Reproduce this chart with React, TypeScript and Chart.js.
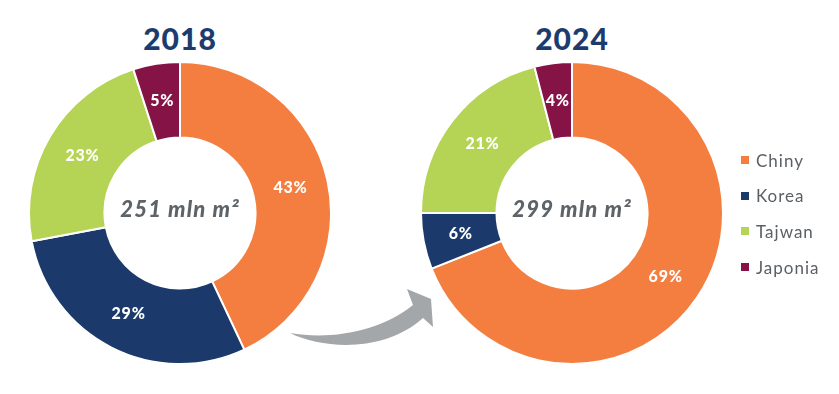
import React, { useEffect, useRef } from "react";
import { Chart, registerables } from "chart.js";

Chart.register(...registerables);

const categories = ["Chiny", "Korea", "Tajwan", "Japonia"];
const colors = ["#f37e40", "#1b3a6b", "#b5d455", "#861345"];
const years = ["2018", "2024"];
const values2018 = [43, 29, 23, 5];
const values2024 = [69, 6, 21, 4];
const totals = ["251 mln m²", "299 mln m²"];

const FONT = "Lato, 'Open Sans', sans-serif";

const labelPlugin = {
  id: "pctLabels",
  afterDatasetsDraw(chart: any) {
    const ctx = chart.ctx;
    const meta = chart.getDatasetMeta(0);
    const data = chart.data.datasets[0].data as number[];
    ctx.save();
    ctx.fillStyle = "#ffffff";
    ctx.font = `900 16px ${FONT}`;
    try {
      (ctx as any).letterSpacing = "0.8px";
    } catch (e) {}
    ctx.textAlign = "center";
    ctx.textBaseline = "middle";
    meta.data.forEach((arc: any, i: number) => {
      const p = arc.tooltipPosition();
      ctx.fillText(`${data[i]}%`, p.x, p.y);
    });
    ctx.restore();
  },
};

function Donut({ values, left }: { values: number[]; left: number }) {
  const ref = useRef<HTMLCanvasElement>(null);
  useEffect(() => {
    const chart = new Chart(ref.current!, {
      type: "doughnut",
      data: {
        labels: categories,
        datasets: [
          {
            data: values,
            backgroundColor: colors,
            borderColor: "#ffffff",
            borderWidth: 2,
          },
        ],
      },
      options: {
        responsive: false,
        animation: false,
        cutout: "50%",
        plugins: { legend: { display: false }, tooltip: { enabled: false } },
      },
      plugins: [labelPlugin],
    });
    return () => chart.destroy();
  }, []);
  return (
    <canvas
      ref={ref}
      width={304}
      height={304}
      style={{ position: "absolute", left, top: 61, width: 304, height: 304 }}
    />
  );
}

export default function App() {
  const centers = [180, 572];
  const vals = [values2018, values2024];
  return (
    <div
      style={{
        position: "absolute",
        left: 0,
        top: 0,
        width: 839,
        height: 394,
        background: "#ffffff",
        fontFamily: FONT,
        overflow: "hidden",
      }}
    >
      {centers.map((cx, i) => (
        <React.Fragment key={i}>
          <div
            style={{
              position: "absolute",
              left: cx - 100,
              top: 18,
              width: 200,
              textAlign: "center",
              fontSize: 30,
              fontWeight: 900,
              color: "#1d3c6e",
              lineHeight: "40px",
              letterSpacing: 1,
            }}
          >
            {years[i]}
          </div>
          <Donut values={vals[i]} left={cx - 152} />
          <div
            style={{
              position: "absolute",
              left: cx - 80,
              top: 195,
              width: 160,
              textAlign: "center",
              fontSize: 22,
              fontWeight: 900,
              fontStyle: "italic",
              color: "#5e6368",
              lineHeight: "28px",
              whiteSpace: "nowrap",
              letterSpacing: 1.2,
            }}
          >
            {totals[i]}
          </div>
        </React.Fragment>
      ))}
      <svg
        width={839}
        height={394}
        style={{ position: "absolute", left: 0, top: 0, pointerEvents: "none" }}
      >
        <path
          d="M290,333 C325,350 385,352 423,318 L433,327 L431,299 L407,289 L413,305 C380,332 330,340 290,333 Z"
          fill="#a4a7a9"
        />
      </svg>
      <div style={{ position: "absolute", left: 741, top: 148 }}>
        {categories.map((c, i) => (
          <div
            key={c}
            style={{
              display: "flex",
              alignItems: "center",
              height: 24,
              marginBottom: 11.7,
            }}
          >
            <span
              style={{
                display: "inline-block",
                width: 8,
                height: 8,
                background: colors[i],
                marginRight: 7,
              }}
            />
            <span
              style={{
                fontSize: 17,
                color: "#5a5f64",
                letterSpacing: 1,
              }}
            >
              {c}
            </span>
          </div>
        ))}
      </div>
    </div>
  );
}
